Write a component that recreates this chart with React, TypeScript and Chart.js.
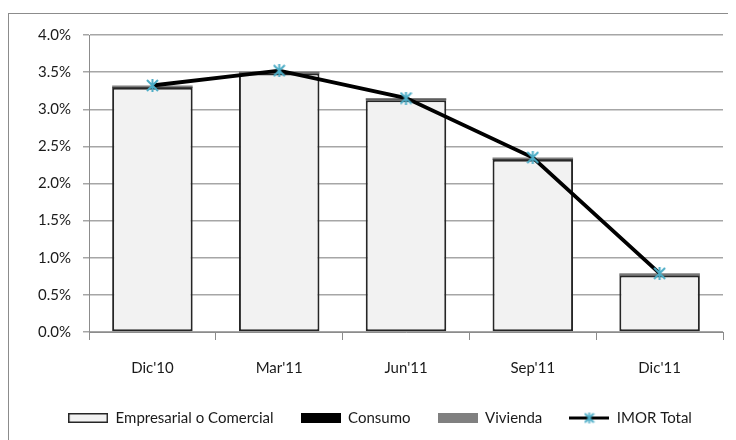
import React, { useEffect, useRef } from "react";
import { Chart, registerables } from "chart.js";

Chart.register(...registerables);

const categories = ["Dic'10", "Mar'11", "Jun'11", "Sep'11", "Dic'11"];
const empresarial = [3.29, 3.48, 3.12, 2.32, 0.76];
const consumo = [0.01, 0.01, 0.01, 0.01, 0.01];
const vivienda = [0.02, 0.02, 0.02, 0.02, 0.02];
const imorTotal = [3.32, 3.52, 3.15, 2.35, 0.79];
const seriesNames = ["Empresarial o Comercial", "Consumo", "Vivienda", "IMOR Total"];
const yMin = 0;
const yMax = 4;
const yStep = 0.5;

const FONT = "Lato, 'Open Sans', sans-serif";
const TEXT = "#1a1a1a";
const CYAN = "#4bacc6";

function makeStar(size: number, lw: number) {
  const c = document.createElement("canvas");
  c.width = size;
  c.height = size;
  const ctx = c.getContext("2d")!;
  ctx.strokeStyle = CYAN;
  ctx.lineWidth = lw;
  ctx.beginPath();
  ctx.moveTo(1, 1);
  ctx.lineTo(size - 1, size - 1);
  ctx.moveTo(size - 1, 1);
  ctx.lineTo(1, size - 1);
  ctx.moveTo(size / 2, 0);
  ctx.lineTo(size / 2, size);
  ctx.stroke();
  return c;
}

function makeBox(fill: string, stroke: string | null) {
  const c = document.createElement("canvas");
  c.width = 40;
  c.height = 10;
  const ctx = c.getContext("2d")!;
  ctx.fillStyle = fill;
  ctx.fillRect(0, 0, 40, 10);
  if (stroke) {
    ctx.strokeStyle = stroke;
    ctx.lineWidth = 1.5;
    ctx.strokeRect(0.75, 0.75, 38.5, 8.5);
  }
  return c;
}

function makeLineIcon() {
  const c = document.createElement("canvas");
  c.width = 40;
  c.height = 13;
  const ctx = c.getContext("2d")!;
  ctx.strokeStyle = "#000";
  ctx.lineWidth = 3;
  ctx.beginPath();
  ctx.moveTo(0, 6.5);
  ctx.lineTo(40, 6.5);
  ctx.stroke();
  ctx.drawImage(makeStar(11, 1.8), 14.5, 1);
  return c;
}

export default function App() {
  const ref = useRef<HTMLCanvasElement | null>(null);

  useEffect(() => {
    if (!ref.current) return;
    const star = makeStar(13, 2);
    const icons = [
      makeBox("#f2f2f2", "#262626"),
      makeBox("#000000", null),
      makeBox("#808080", null),
      makeLineIcon(),
    ];
    const chart = new Chart(ref.current, {
      type: "bar",
      data: {
        labels: categories,
        datasets: [
          {
            type: "line",
            label: seriesNames[3],
            data: imorTotal,
            borderColor: "#000000",
            borderWidth: 3.8,
            pointStyle: star as any,
            pointRadius: 6,
            stack: "line",
            order: 0,
          } as any,
          {
            label: seriesNames[0],
            data: empresarial,
            backgroundColor: "#f2f2f2",
            borderColor: "#262626",
            borderWidth: 2,
            borderSkipped: false,
            stack: "bars",
            order: 1,
          },
          {
            label: seriesNames[1],
            data: consumo,
            backgroundColor: "#000000",
            borderWidth: 0,
            stack: "bars",
            order: 1,
          },
          {
            label: seriesNames[2],
            data: vivienda,
            backgroundColor: "#7f7f7f",
            borderWidth: 0,
            stack: "bars",
            order: 1,
          },
        ],
      },
      options: {
        responsive: false,
        animation: false,
        devicePixelRatio: 1,
        events: [],
        datasets: {
          bar: { categoryPercentage: 1, barPercentage: 0.635 },
        },
        layout: { padding: { top: 19, right: 13, left: 28, bottom: 4.5 } },
        scales: {
          x: {
            stacked: true,
            grid: {
              offset: true,
              drawOnChartArea: false,
              drawTicks: true,
              tickLength: 8,
              color: "#8c8c8c",
            },
            border: { display: true, color: "#8c8c8c", width: 1 },
            ticks: {
              color: TEXT,
              padding: 19,
              font: { family: FONT, size: 15 },
              maxRotation: 0,
            },
            afterFit: (s: any) => {
              s.height = 51.5;
            },
          },
          y: {
            stacked: true,
            min: yMin,
            max: yMax,
            grid: {
              color: "#a6a6a6",
              lineWidth: 1.5,
              tickLength: 6,
              drawTicks: true,
            },
            border: { display: true, color: "#8c8c8c", width: 1 },
            ticks: {
              stepSize: yStep,
              color: TEXT,
              padding: 12,
              font: { family: FONT, size: 15 },
              callback: (v: any) => Number(v).toFixed(1) + "%",
            },
            afterFit: (s: any) => {
              s.width = 52;
            },
          },
        },
        plugins: {
          tooltip: { enabled: false },
          legend: {
            position: "bottom",
            labels: {
              usePointStyle: true,
              pointStyleWidth: 40,
              padding: 27,
              color: TEXT,
              font: { family: FONT, size: 15 },
              generateLabels: () =>
                [1, 2, 3, 0].map((di, k) => ({
                  text: seriesNames[k],
                  pointStyle: icons[k] as any,
                  datasetIndex: di,
                  hidden: false,
                  fontColor: TEXT,
                  lineWidth: 0,
                  strokeStyle: "transparent",
                  fillStyle: "transparent",
                })),
            },
          },
        },
      },
    });
    return () => chart.destroy();
  }, []);

  return (
    <div style={{ paddingTop: 5 }}>
      <div
        style={{
          borderTop: "1px solid #8c8c8c",
          borderLeft: "1px solid #8c8c8c",
          width: 727,
          height: 426,
          overflow: "hidden",
        }}
      >
        <canvas ref={ref} width={727} height={426} style={{ display: "block" }} />
      </div>
    </div>
  );
}
